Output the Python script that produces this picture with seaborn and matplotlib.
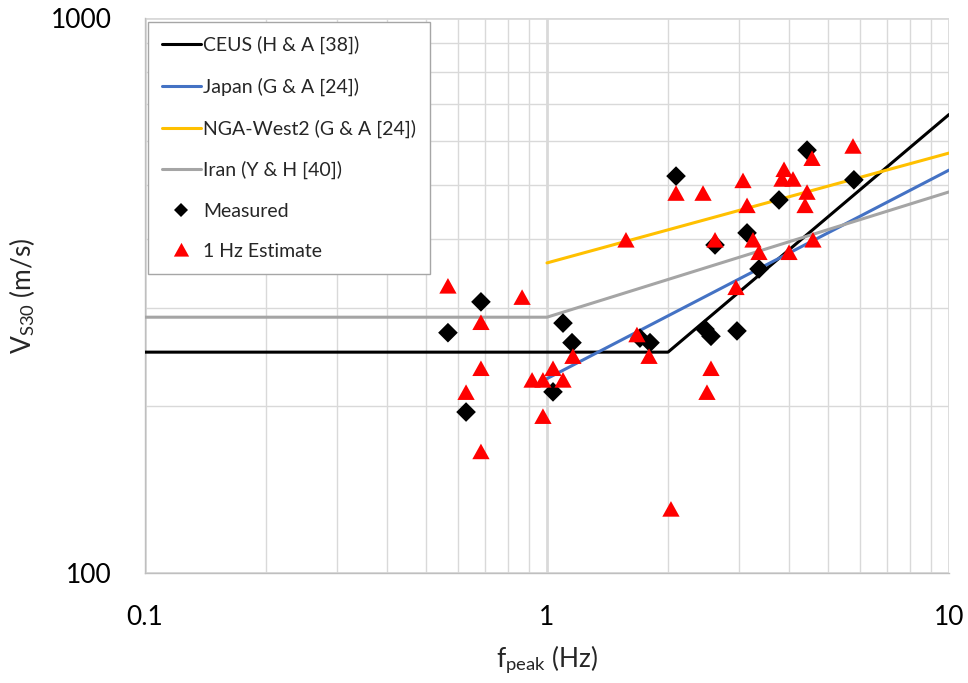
import numpy as np
import pandas as pd
import matplotlib
matplotlib.use("Agg")
import matplotlib.pyplot as plt
import seaborn as sns
from matplotlib.ticker import LogLocator, NullFormatter, FixedFormatter, FixedLocator
from matplotlib.lines import Line2D

sns.set_theme(style="white")
plt.rcParams["font.family"] = ["Lato", "DejaVu Sans"]
plt.rcParams["mathtext.fontset"] = "custom"
plt.rcParams["mathtext.rm"] = "Lato"
plt.rcParams["mathtext.it"] = "Lato:italic"
plt.rcParams["mathtext.bf"] = "Lato:bold"

# Site-response model curves (breakpoints on log-log axes)
ceus_f = [0.1, 2.0, 10.0]
ceus_v = [250, 250, 670]
japan_f = [1.0, 10.0]
japan_v = [224, 532]
nga_f = [1.0, 10.0]
nga_v = [362, 571]
iran_f = [0.1, 1.0, 10.0]
iran_v = [289, 289, 486]

# Measured sites
meas_f = [0.567, 0.685, 0.629, 1.096, 1.154, 1.035, 1.703, 1.804, 2.094,
          2.472, 2.558, 2.969, 2.618, 3.145, 3.368, 3.777, 4.435, 5.80]
meas_v = [271, 308, 195, 282, 260, 212, 265, 260, 519,
          275, 267, 273, 390, 410, 353, 470, 578, 511]

# 1 Hz estimates
est_f = [0.567, 0.685, 0.867, 0.685, 0.629, 0.685, 0.918, 0.977, 1.035,
         1.096, 0.977, 1.160, 1.674, 1.794, 2.558, 2.500, 2.952, 2.034,
         1.572, 2.094, 2.444, 3.073, 3.145, 2.618, 3.254, 3.368, 3.887,
         3.842, 4.092, 4.435, 4.384, 4.563, 4.000, 4.588, 5.77]
est_v = [328, 282, 313, 233, 211, 165, 222, 222, 233,
         222, 191, 245, 268, 245, 233, 211, 326, 130,
         397, 482, 482, 508, 458, 397, 397, 377, 532,
         511, 511, 484, 458, 557, 377, 397, 586]

models = [
    ("CEUS (H & A [38])", ceus_f, ceus_v, "#000000"),
    ("Japan (G & A [24])", japan_f, japan_v, "#4472C4"),
    ("NGA-West2 (G & A [24])", nga_f, nga_v, "#FFC000"),
    ("Iran (Y & H [40])", iran_f, iran_v, "#A5A5A5"),
]

W, H = 968, 683
fig = plt.figure(figsize=(W / 100, H / 100), dpi=100)
x0, x1, y0, y1 = 145, 949, 18, 573
ax = fig.add_axes([x0 / W, 1 - y1 / H, (x1 - x0) / W, (y1 - y0) / H])

ax.set_xscale("log")
ax.set_yscale("log")
ax.set_xlim(0.1, 10)
ax.set_ylim(100, 1000)

for name, f, v, c in models:
    sns.lineplot(x=f, y=v, ax=ax, color=c, linewidth=2.2, sort=False,
                 estimator=None, label=name, legend=False, zorder=3)

tri = np.array([[-1, -0.8], [1, -0.8], [0, 1], [-1, -0.8]])

sns.scatterplot(x=meas_f, y=meas_v, ax=ax, marker="D", s=100, color="black",
                edgecolor="none", linewidth=0, zorder=4, legend=False)
sns.scatterplot(x=est_f, y=est_v, ax=ax, marker=tri, s=155, color="#FF0000",
                edgecolor="none", linewidth=0, zorder=5, legend=False)

# Grid: major and minor, light grey
ax.grid(True, which="major", color="#D9D9D9", linewidth=2.0, zorder=0)
ax.grid(True, which="minor", color="#D9D9D9", linewidth=1.0, zorder=0)
ax.set_axisbelow(True)
ax.xaxis.set_major_locator(FixedLocator([0.1, 1, 10]))
ax.xaxis.set_major_formatter(FixedFormatter(["0.1", "1", "10"]))
ax.yaxis.set_major_locator(FixedLocator([100, 1000]))
ax.yaxis.set_major_formatter(FixedFormatter(["100", "1000"]))
ax.xaxis.set_minor_locator(LogLocator(base=10, subs=np.arange(2, 10)))
ax.yaxis.set_minor_locator(LogLocator(base=10, subs=np.arange(2, 10)))
ax.xaxis.set_minor_formatter(NullFormatter())
ax.yaxis.set_minor_formatter(NullFormatter())
ax.tick_params(which="both", length=0)
ax.tick_params(axis="x", which="major", labelsize=19, pad=23, colors="#000000")
ax.tick_params(axis="y", which="major", labelsize=19, pad=24, colors="#000000")

for side in ["top", "right"]:
    ax.spines[side].set_visible(False)
for side in ["left", "bottom"]:
    ax.spines[side].set_color("#BFBFBF")
    ax.spines[side].set_linewidth(1.0)

ax.set_xlabel(r"f$_{\mathrm{peak}}$ (Hz)", fontsize=19, labelpad=10)
ax.set_ylabel(r"V$_{\mathrm{S30}}$ (m/s)", fontsize=19, labelpad=10)

handles = [Line2D([], [], color=c, linewidth=2.2) for _, _, _, c in models]
handles.append(Line2D([], [], linestyle="none", marker="D", markersize=7.5,
                      color="black", markeredgewidth=0))
handles.append(Line2D([], [], linestyle="none", marker=tri, markersize=11,
                      color="#FF0000", markeredgewidth=0))
labels = [m[0] for m in models] + ["Measured", "1 Hz Estimate"]
leg = fig.legend(handles, labels, loc="upper left",
                 bbox_to_anchor=(148 / W, 1 - 22 / H),
                 bbox_transform=fig.transFigure, fontsize=14,
                 frameon=True, fancybox=False, framealpha=1,
                 edgecolor="#A6A6A6", borderpad=0.72, labelspacing=1.2,
                 handlelength=2.0, handletextpad=0.12, borderaxespad=0)
leg.get_frame().set_linewidth(1.0)

fig.savefig("out.png", dpi=100)
